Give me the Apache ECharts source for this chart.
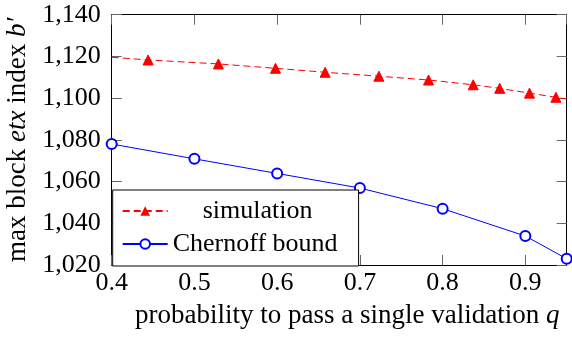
<!DOCTYPE html>
<html>
<head>
<meta charset="utf-8">
<script src="https://cdn.jsdelivr.net/npm/echarts@6/dist/echarts.min.js"></script>
<style>html,body{margin:0;padding:0;background:#fff}#c{width:572px;height:346px}</style>
</head>
<body>
<div id="c"></div>
<script>
// Data
const simQ = [0.4, 0.444, 0.529, 0.598, 0.658, 0.723, 0.783, 0.837, 0.869, 0.905, 0.937, 0.95];
const simB = [1119.6, 1118.3, 1116.4, 1114.3, 1112.4, 1110.5, 1108.7, 1106.4, 1104.7, 1102.4, 1100.4, 1099.6];
const simMarked = [false, true, true, true, true, true, true, true, true, true, true, false];
const chQ = [0.4, 0.5, 0.6, 0.7, 0.8, 0.9, 0.95];
const chB = [1078.0, 1070.9, 1063.9, 1056.9, 1047.0, 1033.9, 1023.0];
const xMin = 0.4, xMax = 0.95, xStep = 0.1;
const yMin = 1020, yMax = 1140, yStep = 20;

const FONT = '"Liberation Serif", "Times New Roman", serif';
const chart = echarts.init(document.getElementById('c'), null, {renderer: 'canvas'});

const simData = simQ.map((q, i) => simMarked[i] ? [q, simB[i]] : {value: [q, simB[i]], symbol: 'none'});
const chData = chQ.map((q, i) => [q, chB[i]]);

const tickStyle = {show: true, inside: true, length: 10, lineStyle: {color: '#666', width: 1}};
const lineAx = {show: true, lineStyle: {color: '#000', width: 1}};

chart.setOption({
  animation: false,
  backgroundColor: '#fff',
  grid: {left: 111.7, right: 5.3, top: 14.7, bottom: 81, containLabel: false, outerBoundsMode: 'none'},
  xAxis: [{
    type: 'value', min: xMin, max: xMax, interval: xStep, position: 'bottom',
    axisLine: lineAx, axisTick: tickStyle, splitLine: {show: false},
    axisLabel: {fontFamily: FONT, fontSize: 26, color: '#000', margin: 5, showMaxLabel: false,
      formatter: v => v.toFixed(1)},
    name: 'probability to pass a single validation {i|q}', nameLocation: 'middle', nameGap: 37,
    nameTextStyle: {fontFamily: FONT, fontSize: 27, color: '#000', padding: [0, 0, 0, 16],
      rich: {i: {fontFamily: FONT, fontSize: 27, fontStyle: 'italic', color: '#000'}}}
  }, {
    type: 'value', min: xMin, max: xMax, interval: xStep, position: 'top',
    axisLine: lineAx, axisTick: tickStyle, splitLine: {show: false}, axisLabel: {show: false}
  }],
  yAxis: [{
    type: 'value', min: yMin, max: yMax, interval: yStep, position: 'left',
    axisLine: lineAx, axisTick: tickStyle, splitLine: {show: false},
    axisLabel: {fontFamily: FONT, fontSize: 26, color: '#000', margin: 11,
      formatter: v => v.toLocaleString('en-US')},
    name: '{n|max block }{i|etx}{n| index }{i|b′}', nameLocation: 'middle', nameGap: 77, nameRotate: 90,
    nameTextStyle: {fontFamily: FONT, fontSize: 27, color: '#000',
      rich: {n: {fontFamily: FONT, fontSize: 27, color: '#000'},
             i: {fontFamily: FONT, fontSize: 27, fontStyle: 'italic', color: '#000'}}}
  }, {
    type: 'value', min: yMin, max: yMax, interval: yStep, position: 'right',
    axisLine: lineAx, axisTick: tickStyle, splitLine: {show: false}, axisLabel: {show: false}
  }],
  legend: {
    orient: 'vertical', left: 112.7, top: 190,
    padding: [8, 21, 9, 9], itemGap: 7, itemWidth: 45, itemHeight: 12,
    backgroundColor: '#fff', borderColor: '#000', borderWidth: 1, borderRadius: 0,
    textStyle: {fontFamily: FONT, fontSize: 26, color: '#000',
      rich: {s: {fontFamily: FONT, fontSize: 26, color: '#000', padding: [0, 0, 0, 30]},
             c: {fontFamily: FONT, fontSize: 26, color: '#000'}}},
    formatter: n => n === 'simulation' ? '{s|simulation}' : '{c|Chernoff bound}',
    data: ['simulation', 'Chernoff bound']
  },
  series: [{
    name: 'simulation', type: 'line', data: simData,
    symbol: 'triangle', symbolSize: 10, showSymbol: true,
    lineStyle: {color: '#ff0000', width: 1, type: [7, 4]},
    itemStyle: {color: '#ff0000', borderColor: '#ff0000'}
  }, {
    name: 'Chernoff bound', type: 'line', data: chData, clip: false,
    symbol: 'emptyCircle', symbolSize: 10, showSymbol: true,
    lineStyle: {color: '#0000ff', width: 1},
    itemStyle: {color: '#0000ff', borderColor: '#0000ff', borderWidth: 1}
  }]
});
</script>
</body>
</html>
